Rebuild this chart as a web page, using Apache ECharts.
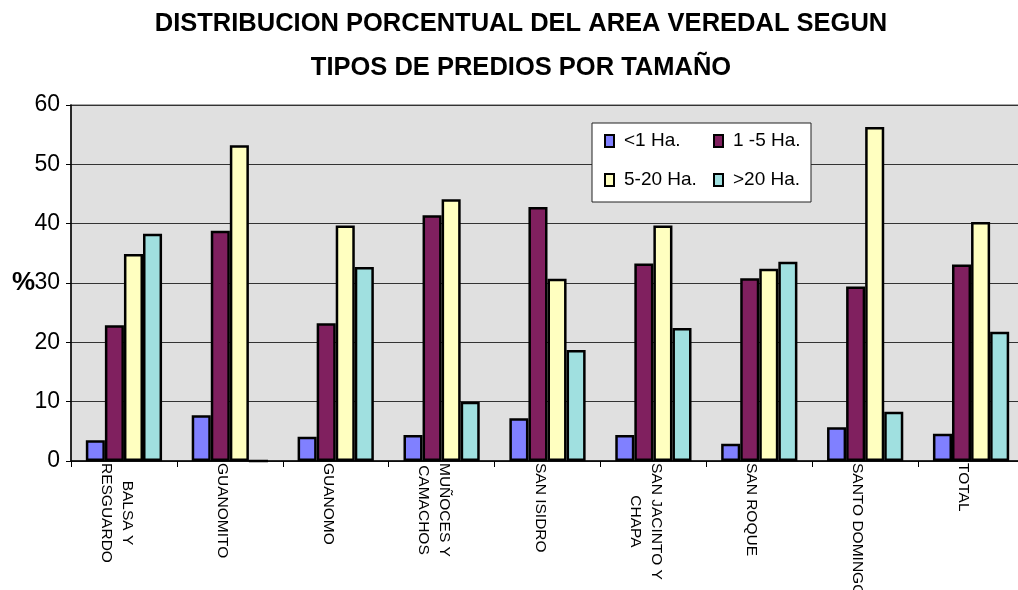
<!DOCTYPE html>
<html>
<head>
<meta charset="utf-8">
<title>Distribución porcentual del área veredal</title>
<script src="https://cdn.jsdelivr.net/npm/echarts@6/dist/echarts.min.js"></script>
<style>
  html, body { margin: 0; padding: 0; background: #ffffff; }
  #chart { width: 1018px; height: 590px; }
</style>
</head>
<body>
<div id="chart"></div>
<script>
// Veredas (last one is the overall total)
const categories = [
  'BALSA Y\nRESGUARDO',
  'GUANOMITO',
  'GUANOMO',
  'MUÑOCES Y\nCAMACHOS',
  'SAN ISIDRO',
  'SAN JACINTO Y\nCHAPA',
  'SAN ROQUE',
  'SANTO DOMINGO',
  'TOTAL'
];

// Share (%) of the vereda area by property size class
const menos1Ha   = [3.5, 7.7, 4.1, 4.4, 7.2, 4.4, 2.9, 5.7, 4.6];
const de1a5Ha    = [22.9, 38.8, 23.2, 41.4, 42.8, 33.3, 30.8, 29.4, 33.1];
const de5a20Ha   = [34.9, 53.2, 39.7, 44.1, 30.7, 39.7, 32.4, 56.3, 40.3];
const mas20Ha    = [38.3, 0, 32.7, 10.0, 18.7, 22.4, 33.6, 8.3, 21.8];

const seriesNames = ['<1 Ha.', '1 -5 Ha.', '5-20 Ha.', '>20 Ha.'];
const seriesColors = ['#8080FF', '#80205F', '#FFFFC0', '#A0E0E0'];
const seriesData = [menos1Ha, de1a5Ha, de5a20Ha, mas20Ha];

const yTicks = { min: 0, max: 60, interval: 10 };

const chart = echarts.init(document.getElementById('chart'), null, { renderer: 'canvas' });

const option = {
  animation: false,
  backgroundColor: '#ffffff',
  title: {
    text: 'DISTRIBUCION PORCENTUAL DEL AREA VEREDAL SEGUN\nTIPOS DE PREDIOS POR TAMAÑO',
    left: 521,
    top: 2,
    padding: 0,
    textAlign: 'center',
    textStyle: {
      fontFamily: 'Liberation Sans, Arial, sans-serif',
      fontWeight: 'bold',
      fontSize: 25.5,
      lineHeight: 44,
      color: '#000000'
    }
  },
  legend: {
    left: 592,
    top: 123,
    width: 205,
    padding: [5.5, 3, 9.5, 12],
    itemGap: 14,
    itemWidth: 9,
    itemHeight: 12,
    backgroundColor: '#ffffff',
    borderColor: '#222222',
    borderWidth: 1,
    borderRadius: 0,
    icon: 'rect',
    itemStyle: { borderColor: '#000000', borderWidth: 2 },
    textStyle: {
      fontFamily: 'Liberation Sans, Arial, sans-serif',
      fontSize: 19,
      lineHeight: 25,
      color: '#000000',
      width: 75,
      padding: [0, 0, 0, 5]
    },
    data: seriesNames
  },
  grid: {
    left: 71,
    top: 105,
    width: 953,
    bottom: 129,
    show: true,
    backgroundColor: '#E0E0E0',
    borderColor: '#8a8a8a',
    borderWidth: 1.5,
    containLabel: false,
    outerBoundsMode: 'none'
  },
  xAxis: {
    type: 'category',
    data: categories,
    axisLine: { show: true, lineStyle: { color: '#000000', width: 1.5 } },
    axisTick: { show: true, interval: 0, length: 6, lineStyle: { color: '#000000', width: 1 } },
    axisLabel: {
      interval: 0,
      rotate: -90,
      margin: 2,
      padding: [15, 0, 0, 0],
      fontFamily: 'Liberation Sans, Arial, sans-serif',
      fontSize: 15.5,
      lineHeight: 21,
      color: '#000000',
      formatter: function (value) {
        return value.split('\n').map(function (s) { return '{c|' + s + '}'; }).join('\n');
      },
      rich: {
        c: {
          align: 'center',
          fontFamily: 'Liberation Sans, Arial, sans-serif',
          fontSize: 15.5,
          lineHeight: 21,
          color: '#000000'
        }
      }
    },
    splitLine: { show: false }
  },
  yAxis: {
    type: 'value',
    min: yTicks.min,
    max: yTicks.max,
    interval: yTicks.interval,
    name: '%',
    nameLocation: 'middle',
    nameRotate: 0,
    nameGap: 36,
    nameMoveOverlap: false,
    nameTextStyle: {
      fontFamily: 'Liberation Sans, Arial, sans-serif',
      fontWeight: 'bold',
      fontSize: 26,
      color: '#000000'
    },
    axisLine: { show: true, lineStyle: { color: '#000000', width: 1.5 } },
    axisTick: { show: true, length: 5, lineStyle: { color: '#000000', width: 1 } },
    axisLabel: {
      margin: 11,
      fontFamily: 'Liberation Sans, Arial, sans-serif',
      fontSize: 23,
      color: '#000000'
    },
    splitLine: { show: true, lineStyle: { color: '#333333', width: 1 } }
  },
  series: seriesNames.map(function (name, i) {
    return {
      name: name,
      type: 'bar',
      data: seriesData[i],
      barGap: '0%',
      barCategoryGap: '28%',
      itemStyle: {
        color: seriesColors[i],
        borderColor: '#000000',
        borderWidth: 2.5
      }
    };
  })
};

chart.setOption(option);
</script>
</body>
</html>
